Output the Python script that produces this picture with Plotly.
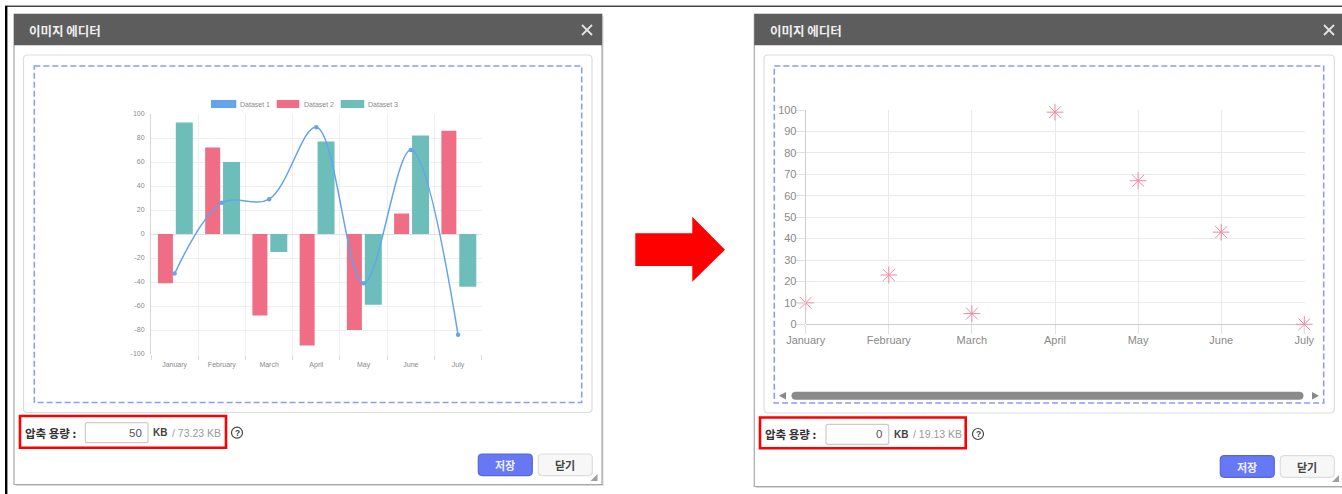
import plotly.graph_objects as go

W, H = 1342, 494

months = ["January", "February", "March", "April", "May", "June", "July"]
dataset1 = [-33, 26, 29, 89, -41, 70, -84]
dataset2 = [-41, 72, -68, -93, -80, 17, 86]
dataset3 = [93, 60, -15, 77, -59, 82, -44]
scatter_values = [10, 23, 5, 99, 67, 43, 0]
left_yticks = list(range(-100, 101, 20))
right_yticks = list(range(0, 101, 10))
legend_names = ["Dataset 1", "Dataset 2", "Dataset 3"]

BLUE, RED, TEAL = "#65a3ea", "#ef6e85", "#6dbdbb"
STAR = "#f08aa0"
LAT = "Liberation Sans, Arial, sans-serif"
KR = "Noto Sans CJK KR, sans-serif"
GREY = "#8a8a8a"
GRID = "#efefef"


def px(x):
    return x / W


def py(y):
    return 1 - y / H


shapes, notes = [], []


def rect(x0, y0, x1, y1, fill="rgba(0,0,0,0)", line="rgba(0,0,0,0)", lw=0, dash=None):
    shapes.append(dict(type="rect", xref="paper", yref="paper", layer="below",
                       x0=px(x0), x1=px(x1), y0=py(y0), y1=py(y1), fillcolor=fill,
                       line=dict(color=line, width=lw, dash=dash or "solid")))


def path(d_points, fill, close=True):
    d = "M" + " L".join(f"{px(a):.5f},{py(b):.5f}" for a, b in d_points) + (" Z" if close else "")
    shapes.append(dict(type="path", xref="paper", yref="paper", layer="below", path=d,
                       fillcolor=fill, line=dict(width=0)))


def rrect(x0, y0, x1, y1, r, fill, line, lw=1):
    def P(a, b):
        return f"{px(a):.5f},{py(b):.5f}"
    d = (f"M{P(x0+r,y0)} L{P(x1-r,y0)} Q{P(x1,y0)} {P(x1,y0+r)} L{P(x1,y1-r)} Q{P(x1,y1)} {P(x1-r,y1)} "
         f"L{P(x0+r,y1)} Q{P(x0,y1)} {P(x0,y1-r)} L{P(x0,y0+r)} Q{P(x0,y0)} {P(x0+r,y0)} Z")
    shapes.append(dict(type="path", xref="paper", yref="paper", layer="below", path=d,
                       fillcolor=fill, line=dict(color=line, width=lw)))


def seg(x0, y0, x1, y1, color, lw):
    shapes.append(dict(type="line", xref="paper", yref="paper", layer="below",
                       x0=px(x0), x1=px(x1), y0=py(y0), y1=py(y1),
                       line=dict(color=color, width=lw)))


def text(x, y, s, size, color, anchor="left", font=KR, bold=False):
    notes.append(dict(xref="paper", yref="paper", x=px(x), y=py(y), text=f"<b>{s}</b>" if bold else s,
                      showarrow=False, xanchor=anchor, yanchor="middle", borderpad=0,
                      font=dict(family=font, size=size, color=color)))


def dialog(left, right, bottom, panel_l, panel_r, panel_b, dash_l, dash_r, dash_b,
           close_x, red_box, label_x, input_box, value, value_x, kb_x, total, total_x,
           help_x, row_y, save_x, btn_y, handle):
    # frame, shadow and title bar
    rect(left + 1.5, 16, right + 1.5, bottom + 1.5, fill="#d8d8d8")
    rect(left, 14, right, bottom, fill="#ffffff", line="#a8a8a8", lw=1.2)
    rect(left, 14, right, 45.3, fill="#5d5d5d")
    text(left + 14.3, 30, "이미지 에디터", 12.5, "#eeeeee", bold=True)
    seg(close_x - 5, 25, close_x + 5, 35, "#e4e4e4", 1.8)
    seg(close_x - 5, 35, close_x + 5, 25, "#e4e4e4", 1.8)
    # inner panel and dashed area
    rrect(panel_l, 55, panel_r, panel_b, 4, "#ffffff", "#dddddd", 1.2)
    rect(dash_l, 66, dash_r, dash_b, line="#8c9cf7", lw=1.6, dash="6px,3px")
    # size row
    rect(*red_box, line="#ff0000", lw=2.6)
    text(label_x, row_y, "압축 용량 :", 11.5, "#333333", bold=True)
    rrect(*input_box, 2, "#ffffff", "#cccccc", 1.2)
    text(value_x, row_y, value, 11.5, "#555555", anchor="right", font=LAT)
    text(kb_x, row_y, "KB", 10, "#444444", font=LAT, bold=True)
    text(total_x, row_y, total, 10.5, "#9a9a9a", font=LAT)
    shapes.append(dict(type="circle", xref="paper", yref="paper", layer="below",
                       x0=px(help_x - 5.5), x1=px(help_x + 5.5), y0=py(row_y + 5.5), y1=py(row_y - 5.5),
                       line=dict(color="#444444", width=1.2), fillcolor="#ffffff"))
    text(help_x, row_y, "?", 8.5, "#444444", anchor="center", font=LAT, bold=True)
    # buttons
    rrect(save_x, btn_y, save_x + 54, btn_y + 21.6, 4, "#6678f3", "#5566dd", 1.2)
    text(save_x + 27, btn_y + 11, "저장", 11, "#eef0ff", anchor="center", bold=True)
    rrect(save_x + 60, btn_y, save_x + 114, btn_y + 21.6, 4, "#f7f7f7", "#dddddd", 1.2)
    text(save_x + 87, btn_y + 11, "닫기", 11, "#444444", anchor="center", bold=True)
    # resize handle
    hx, hy = handle
    path([(hx + 7, hy), (hx + 7, hy + 7), (hx, hy + 7)], "#a0a0a0")


# screenshot edge lines
seg(5, 6.2, W, 6.2, "#444444", 1.4)
seg(6.2, 6, 6.2, H, "#000000", 2.4)

dialog(14, 602, 484.5, 23.5, 592, 412.5, 34.3, 581.7, 402.5, 587,
       (20, 416, 226, 447.7), 24, (85.3, 422.7, 148, 442.7), "50", 142.7, 151.5,
       "/ 73.23 KB", 171.5, 237, 432.7, 478.3, 454, (590.5, 474))
dialog(754.3, W + 4, 486.5, 764, 1334.3, 413, 774.3, 1323.7, 403, 1329,
       (760, 417.5, 965.7, 448.3), 764, (826, 424.3, 888.7, 444.3), "0", 883, 892.5,
       "/ 19.13 KB", 912, 978, 434, 1220.3, 455.7, (1332, 475))

# arrow between the dialogs
path([(635.3, 233.3), (692.3, 233.3), (692.3, 216.7), (725, 249.7),
      (692.3, 281.7), (692.3, 266), (635.3, 266)], "#ff0000")

# scrollbar in the right dialog
path([(786, 392), (786, 399.5), (779, 395.7)], "#888888")
path([(1312, 392), (1312, 399.5), (1319, 395.7)], "#888888")
rrect(791.7, 392, 1303.3, 399.5, 3.7, "#8a8a8a", "#8a8a8a", 0.5)

# hand drawn legend row of the left chart
for name, colour, x0, x1, tx in zip(legend_names, [BLUE, RED, TEAL],
                                    [211, 276.7, 340.7], [236.3, 299.3, 364.3],
                                    [239.3, 303.3, 367.3]):
    rect(x0, 100, x1, 108, fill=colour)
    text(tx, 104, name, 7, GREY, font=LAT)

fig = go.Figure()

CAT_PX = (481.7 - 151) / 7
fig.add_bar(x=months, y=dataset2, name="Dataset 2", marker=dict(color=RED, line=dict(width=0)),
            width=15 / CAT_PX, offset=-16.7 / CAT_PX, xaxis="x", yaxis="y")
fig.add_bar(x=months, y=dataset3, name="Dataset 3", marker=dict(color=TEAL, line=dict(width=0)),
            width=17 / CAT_PX, offset=1.2 / CAT_PX, xaxis="x", yaxis="y")
fig.add_scatter(x=months, y=dataset1, name="Dataset 1", mode="lines+markers",
                line=dict(color=BLUE, width=1.5, shape="spline", smoothing=1.0),
                marker=dict(color=BLUE, size=4.5), xaxis="x", yaxis="y", cliponaxis=False)
fig.add_scatter(x=months, y=scatter_values, name="Scatter", mode="markers",
                marker=dict(symbol="asterisk-open", size=14, color=STAR, line=dict(color=STAR, width=1)),
                xaxis="x2", yaxis="y2", cliponaxis=False)

# The plot boxes run slightly past the last gridline so that the edge gridlines stay drawn.
fig.update_layout(
    template=None,
    width=W, height=H, margin=dict(l=0, r=0, t=0, b=0, pad=0, autoexpand=False), showlegend=False,
    paper_bgcolor="#ffffff", plot_bgcolor="rgba(0,0,0,0)", barmode="overlay",
    shapes=shapes, annotations=notes,
    xaxis=dict(domain=[px(151), px(482.06)], type="category", categoryorder="array", automargin=False,
               categoryarray=months, range=[-0.5, 6.5076], anchor="y", tickson="boundaries",
               showgrid=True, gridcolor=GRID, gridwidth=1, ticks="outside", ticklen=5,
               tickcolor="#dddddd", showline=False, zeroline=False, ticklabelstandoff=5,
               tickfont=dict(family=LAT, size=7, color=GREY)),
    yaxis=dict(domain=[py(354.4), py(113.6)], range=[-100.33, 100.33], tickvals=left_yticks, automargin=False,
               ticktext=[str(v) for v in left_yticks], anchor="x",
               showgrid=True, gridcolor=GRID, gridwidth=1, showline=True, linecolor="#d5d5d5",
               linewidth=1, zeroline=True, zerolinecolor="#e0e0e0", zerolinewidth=1,
               ticks="outside", ticklen=4, tickcolor="rgba(0,0,0,0)",
               tickfont=dict(family=LAT, size=7, color=GREY)),
    xaxis2=dict(domain=[px(805.7), px(1304.7)], type="category", categoryorder="array", automargin=False,
                categoryarray=months, range=[0, 6.0048], anchor="y2", showgrid=True, gridcolor="#e9e9e9",
                gridwidth=1, ticks="outside", ticklen=9, tickcolor="#e0e0e0", showline=False,
                zeroline=False, ticklabelstandoff=-4, tickfont=dict(family=LAT, size=11, color=GREY)),
    yaxis2=dict(domain=[py(324.3), py(109.6)], range=[0, 100.19], tickvals=right_yticks, automargin=False,
                anchor="x2", showgrid=True, gridcolor="#e9e9e9", gridwidth=1, showline=True,
                linecolor="#cfcfcf", linewidth=1, zeroline=True, zerolinecolor="#cfcfcf", zerolinewidth=1,
                ticks="outside", ticklen=9, tickcolor="#e0e0e0", ticklabelstandoff=-3,
                tickfont=dict(family=LAT, size=11, color=GREY)),
)

fig.write_html("out.html", config={"displayModeBar": False},
               post_script="document.body.style.margin='0';document.body.style.overflow='hidden';")
